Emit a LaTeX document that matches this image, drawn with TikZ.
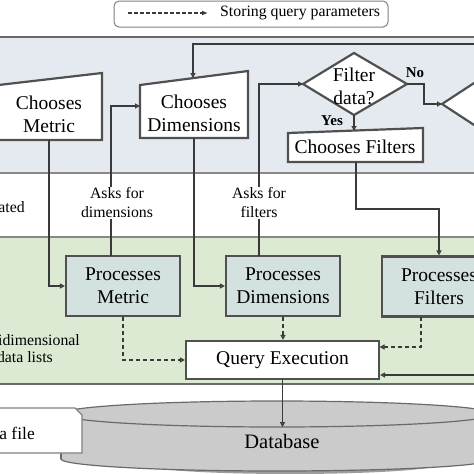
\documentclass[tikz,border=0pt]{standalone}
\usepackage{fontspec}
\setmainfont{Liberation Serif}
\usetikzlibrary{arrows.meta,calc}
\definecolor{bandblue}{HTML}{E5EAF0}
\definecolor{bandgreen}{HTML}{DCEAD3}
\definecolor{procfill}{HTML}{D3E2DF}
\definecolor{edgegray}{HTML}{505050}
\definecolor{linegray}{HTML}{3A3A3A}
\definecolor{bandline}{HTML}{6A6A6A}
\definecolor{dbgray}{HTML}{CBCBCB}
\begin{document}
\begin{tikzpicture}[x=1pt,y=-1pt,
  mainfont/.style={font=\fontsize{19.5}{23}\selectfont},
  lblfont/.style={font=\fontsize{15.8}{19}\selectfont},
  boxline/.style={draw=edgegray,line width=2.2pt},
  proc/.style={boxline,fill=procfill,minimum width=114pt,minimum height=60pt,align=center,mainfont,inner sep=0pt},
  conn/.style={draw=linegray,line width=1.3pt,-{Triangle[open,length=5pt,width=5pt]}},
  dconn/.style={conn,dash pattern=on 4pt off 3pt},
  txt/.style={align=center,mainfont,inner sep=0pt},
  lbl/.style={align=center,lblfont,inner sep=1pt,fill=white},
  yn/.style={font=\fontsize{15}{18}\selectfont\bfseries,inner sep=0pt},
  side/.style={lblfont,anchor=east,inner sep=0pt}
]
\useasboundingbox (0,0) rectangle (474,474);
% bands
\fill[bandblue] (-5,37) rectangle (480,173);
\fill[bandgreen] (-5,237) rectangle (480,384);
\draw[bandline,line width=2pt] (-5,37) -- (480,37);
\draw[bandline!80,line width=2pt] (-5,173) -- (480,173);
\draw[bandline!80,line width=2pt] (-5,237) -- (480,237);
\draw[bandline,line width=2.4pt] (-5,384) -- (480,384);
% legend
\draw[draw=gray,line width=1pt,rounded corners=5pt,fill=white] (114,1) rectangle (388,27);
\coordinate (lgA) at (128,13);
\coordinate (lgB) at (208,13);
\draw[linegray,line width=1.2pt,dash pattern=on 3.5pt off 2.5pt,-{Latex[length=6pt,width=5pt]}] (lgA) -- (lgB);
\node[lblfont,anchor=west,inner sep=0pt] (lgT) at (220,13) {Storing query parameters};
% chooses metric
\draw[boxline,fill=white] (-10,86) -- (102,73) -- (102,140) -- (-10,140) -- cycle;
\node[txt] (cm) at (49,114) {Chooses\\Metric};
\coordinate (cmB) at (49,140);
% chooses dimensions
\draw[boxline,fill=white] (140,85) -- (248,71) -- (248,138) -- (140,138) -- cycle;
\node[txt] (cd) at (194,113) {Chooses\\Dimensions};
\coordinate (cdT) at (193,78);
\coordinate (cdL) at (140,106);
\coordinate (cdB) at (194,138);
% filter diamond
\draw[boxline,fill=white] (303,84) -- (354,53) -- (407,84) -- (354,115) -- cycle;
\node[txt] (fd) at (354,86) {Filter\\data?};
\coordinate (fdL) at (303,84);
\coordinate (fdR) at (407,84);
\coordinate (fdB) at (354,115);
% second diamond
\draw[boxline,fill=white] (442,104) -- (494,70) -- (546,104) -- (494,138) -- cycle;
\coordinate (d2L) at (442,104);
% chooses filters
\draw[boxline,fill=white] (288,133) -- (423,128) -- (423,162) -- (288,162) -- cycle;
\node[txt] (cf) at (355,147) {Chooses Filters};
\coordinate (cfT) at (354,131);
\coordinate (cfB) at (356,162);
% processes
\node[proc] (pm) at (123,286) {Processes\\Metric};
\node[proc] (pd) at (283,286) {Processes\\Dimensions};
\node[proc] (pf) at (439,286.5) {Processes\\Filters};
\coordinate (pmN) at (111,256);
\coordinate (pdN) at (259,256);
\coordinate (pfS) at (421,317);
% query
\node[boxline,fill=white,minimum width=193pt,minimum height=38pt,mainfont,inner sep=0pt] (qe) at (282.5,360) {Query Execution};
\coordinate (qeR) at (379.5,347);
% database shadow
\fill[black!70,opacity=0.55] (290,464) ellipse [x radius=150, y radius=10];
% database
\fill[dbgray,draw=bandline,line width=1.2pt] (277,459) ellipse [x radius=216, y radius=12];
\fill[dbgray] (61,414) rectangle (493,459);
\draw[bandline,line width=1.2pt] (61,414) -- (61,459) (493,414) -- (493,459);
\fill[dbgray,draw=bandline,line width=1.2pt] (277,414) ellipse [x radius=216, y radius=13];
\node[txt,font=\fontsize{20.5}{24}\selectfont] (db) at (282,441) {Database};
\coordinate (dbT) at (282.5,427);
% file box
\draw[draw=gray,line width=1.2pt,fill=white] (-5,408) -- (75,408) -- (82,415) -- (82,453) -- (-5,453) -- cycle;
\node[anchor=east,inner sep=0pt,font=\fontsize{17.5}{21}\selectfont] (af) at (35,433) {a file};
% side texts
\node[side] (t1) at (25,207) {ated};
\node[side] (t2) at (80,340) {idimensional};
\node[side] (t3) at (53,357) {data lists};
% connectors
\coordinate (topR) at (480,44);
\draw[conn] (topR) -- (cdT |- topR) -- (cdT);
\draw[conn] (pmN) -- (pmN |- cdL) -- (cdL);
\node[lbl] (l1) at (117,203) {Asks for\\dimensions};
\draw[conn] (pdN) -- (pdN |- fdL) -- (fdL);
\node[lbl] (l2) at (259,203) {Asks for\\filters};
\draw[conn] (cmB) -- (cmB |- pm.west) -- (pm.west);
\draw[conn] (cdB) -- (cdB |- pd.west) -- (pd.west);
\draw[conn] (fdR) -- ++(17,0) |- (d2L);
\node[yn] (no) at (415,73) {No};
\draw[conn] (fdB) -- (cfT);
\node[yn] (yes) at (332,121) {Yes};
\draw[conn] (cfB) -- ++(0,47) -| (pf.north);
\draw[dconn] (pm.south) |- (qe.west);
\draw[dconn] (pd.south) -- (pd.south |- qe.north);
\draw[dconn] (pfS) |- (qeR);
\coordinate (rin) at (480,375);
\draw[conn] (rin) -- (qe.east |- rin);
\draw[conn] (qe.south) -- (dbT);
\end{tikzpicture}
\end{document}
